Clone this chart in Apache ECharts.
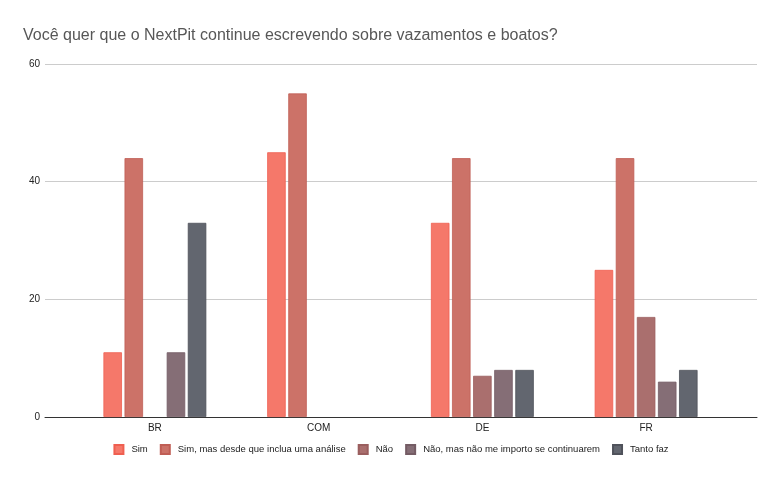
<!DOCTYPE html>
<html>
<head>
<meta charset="utf-8">
<script src="https://cdn.jsdelivr.net/npm/echarts@6/dist/echarts.min.js"></script>
<style>
html,body{margin:0;padding:0;background:#fff;}
#c{width:782px;height:484px;}
</style>
</head>
<body>
<div id="c"></div>
<script>
const categories = ['BR', 'COM', 'DE', 'FR'];
const seriesNames = ['Sim', 'Sim, mas desde que inclua uma análise', 'Não', 'Não, mas não me importo se continuarem', 'Tanto faz'];
const sim = [11, 45, 33, 25];
const simMas = [44, 55, 44, 44];
const nao = [null, null, 7, 17];
const naoMas = [11, null, 8, 6];
const tantoFaz = [33, null, 8, 8];
const yTicks = [0, 20, 40, 60];

const colors = ['#f5786a', '#cc7268', '#aa6f6e', '#856e76', '#62666f'];
const borders = ['#ef5f50', '#c05e55', '#9a5e5e', '#745c64', '#4f525b'];
const values = [sim, simMas, nao, naoMas, tantoFaz];

const chart = echarts.init(document.getElementById('c'), null, {renderer: 'canvas'});
const font = 'Arial, "Liberation Sans", sans-serif';

const series = seriesNames.map((name, i) => ({
  name: name,
  type: 'bar',
  xAxisIndex: 1,
  yAxisIndex: 1,
  data: values[i],
  barWidth: 18.5,
  barGap: '14%',
  itemStyle: {color: colors[i], borderColor: borders[i], borderWidth: 0.8},
  emphasis: {disabled: true}
}));

chart.setOption({
  animation: false,
  color: colors,
  title: {
    text: 'Você quer que o NextPit continue escrevendo sobre vazamentos e boatos?',
    left: 18, top: 23,
    textStyle: {fontFamily: font, fontSize: 16, fontWeight: 'normal', color: '#575757'}
  },
  legend: {
    data: seriesNames,
    bottom: 24, left: 'center',
    icon: 'rect', itemWidth: 9, itemHeight: 9, itemGap: 12,
    textStyle: {fontFamily: font, fontSize: 9.5, color: '#222', padding: [0, 0, 0, 3]}
  },
  grid: [
    {left: 45, right: 25, top: 64, bottom: 67},
    {left: 73, right: 54, top: 64, bottom: 67}
  ],
  xAxis: [
    {gridIndex: 0, type: 'category', data: categories,
     axisLine: {show: true, lineStyle: {color: '#333', width: 1}},
     axisTick: {show: false}, axisLabel: {show: false}},
    {gridIndex: 1, type: 'category', data: categories,
     axisLine: {show: false}, axisTick: {show: false},
     axisLabel: {fontFamily: font, fontSize: 10, color: '#222', margin: 6}}
  ],
  yAxis: [
    {gridIndex: 0, type: 'value', min: yTicks[0], max: yTicks[yTicks.length - 1], interval: 20,
     axisLine: {show: false}, axisTick: {show: false},
     axisLabel: {fontFamily: font, fontSize: 10, color: '#222', margin: 5},
     splitLine: {lineStyle: {color: '#cccccc', width: 1}}},
    {gridIndex: 1, type: 'value', min: 0, max: 60, interval: 20, show: false,
     splitLine: {show: false}}
  ],
  series: series
});
</script>
</body>
</html>
